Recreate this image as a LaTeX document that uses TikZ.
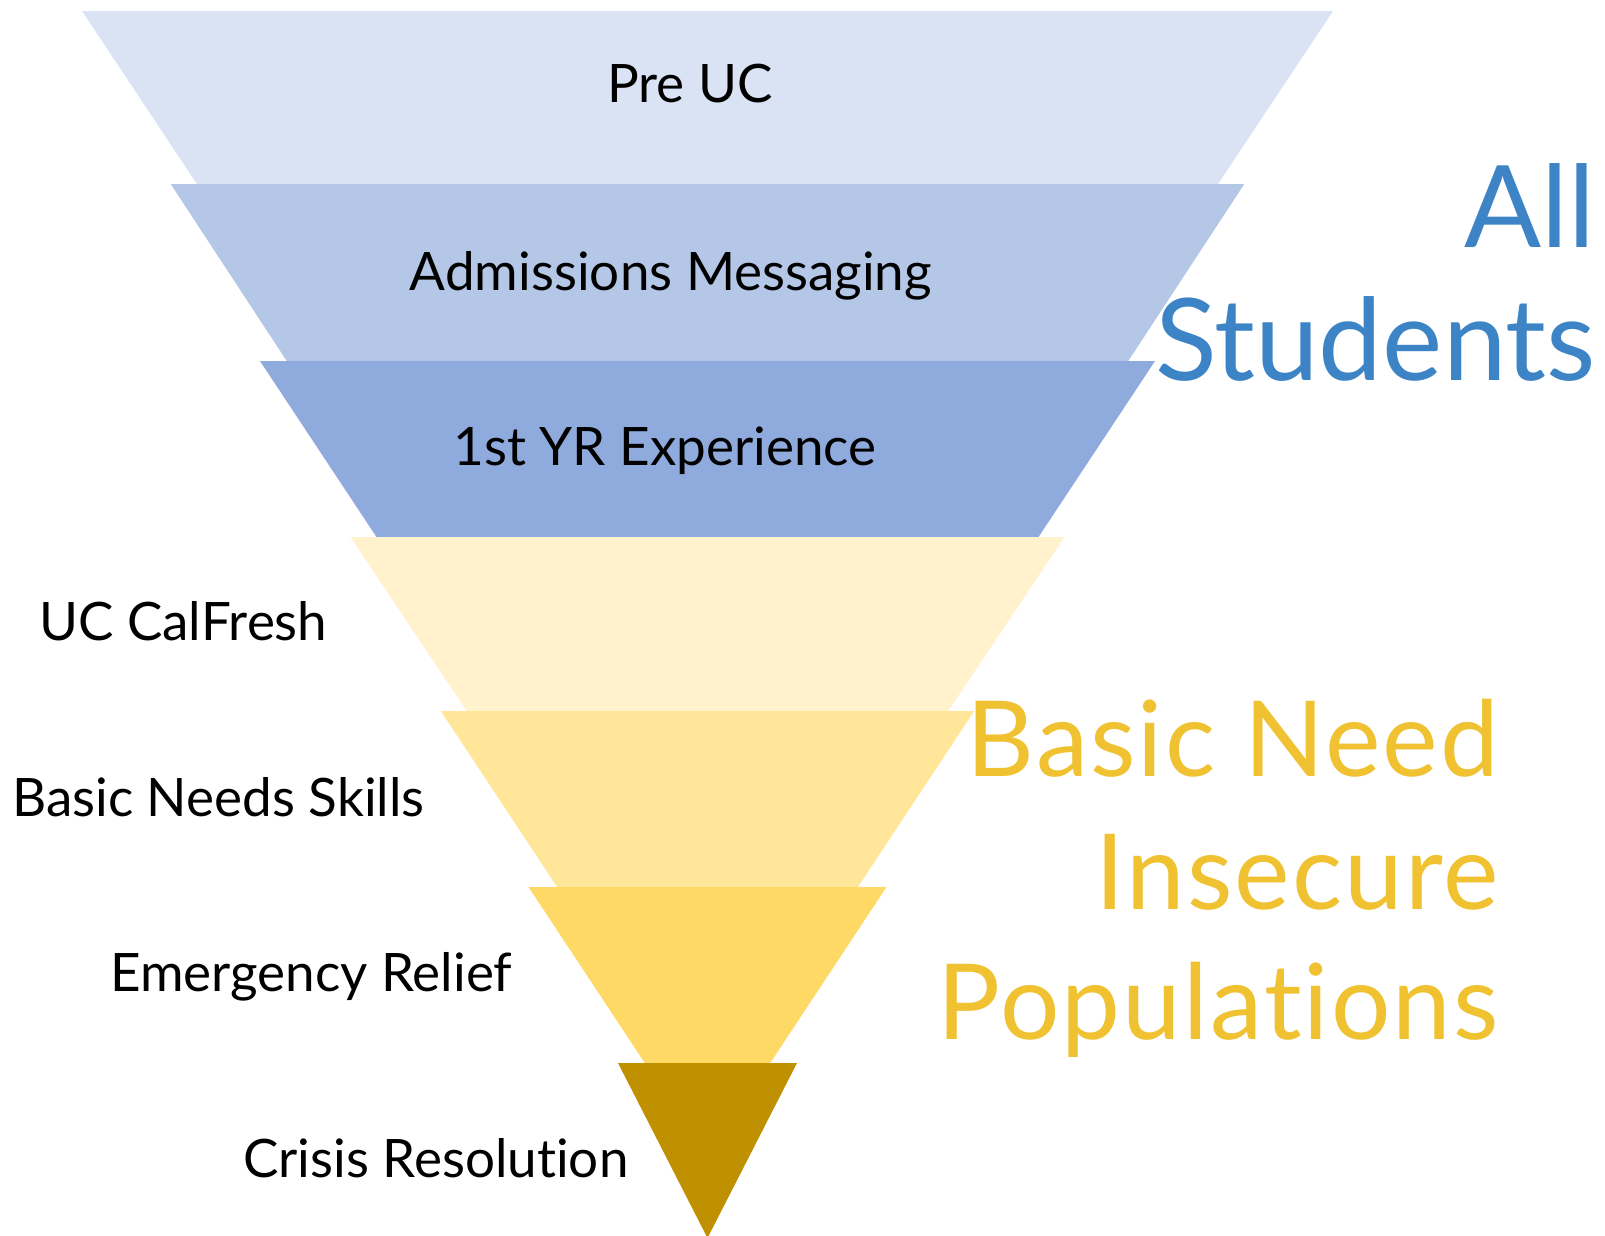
\documentclass[tikz,border=0pt]{standalone}
\usepackage{fontspec}
\setmainfont{Lato}[Ligatures=NoCommon]
\definecolor{b1}{HTML}{DAE3F3}
\definecolor{b2}{HTML}{B4C7E7}
\definecolor{b3}{HTML}{8FAADC}
\definecolor{y1}{HTML}{FFF2CC}
\definecolor{y2}{HTML}{FFE699}
\definecolor{y3}{HTML}{FFD966}
\definecolor{y4}{HTML}{BF9000}
\definecolor{bluetxt}{HTML}{3C84C6}
\definecolor{yeltxt}{HTML}{F0C232}
\begin{document}
\begin{tikzpicture}[x=1pt,y=-1pt,
  lbl/.style={inner sep=0pt,font=\fontsize{53}{60}\selectfont,text=black},
  bigblue/.style={inner sep=0pt,font=\fontsize{114}{130}\selectfont,text=bluetxt},
  bigyel/.style={inner sep=0pt,font=\fontsize{105}{120}\selectfont\addfontfeature{LetterSpace=2.0},text=yeltxt}]
\useasboundingbox (0,0) rectangle (1605,1235);
% bands
\fill[b1] (82,11) -- (1333,11) -- (1216.5,186.3) -- (198.5,186.3) -- cycle;
\fill[b2] (170.7,184) -- (1244.3,184) -- (1127.8,361.7) -- (287.2,361.7) -- cycle;
\fill[b3] (260,361) -- (1155,361) -- (1038.5,537) -- (376.5,537) -- cycle;
\fill[y1] (350.5,537) -- (1064.5,537) -- (948,711.3) -- (467,711.3) -- cycle;
\fill[y2] (440.8,711) -- (974.2,711) -- (857.7,887.3) -- (557.3,887.3) -- cycle;
\fill[y3] (528.5,887) -- (886.5,887) -- (770,1063.3) -- (645,1063.3) -- cycle;
\fill[y4] (618,1063) -- (797,1063) -- (707.5,1238) -- cycle;
% labels inside
\node[lbl,anchor=base] (preuc) at (690,102) {Pre UC};
\node[lbl,anchor=base] (adm) at (671,290) {Admissions Messaging};
\node[lbl,anchor=base] (first) at (665,465) {1st YR Experience};
% labels left
\node[lbl,anchor=base west] (calfresh) at (39,640) {UC CalFresh};
\node[lbl,anchor=base west] (skills) at (12,816) {Basic Needs Skills};
\node[lbl,anchor=base west] (relief) at (110,991) {Emergency Relief};
\node[lbl,anchor=base west] (crisis) at (243,1177) {Crisis Resolution};
% right titles
\node[bigblue,anchor=base east] (all) at (1595,247) {All};
\node[bigblue,anchor=base east] (students) at (1596,380) {Students};
\node[bigyel,anchor=base east] (basic) at (1499,776) {Basic Need};
\node[bigyel,anchor=base east] (insecure) at (1499,909) {Insecure};
\node[bigyel,anchor=base east] (pop) at (1499,1039) {Populations};
\end{tikzpicture}
\end{document}
